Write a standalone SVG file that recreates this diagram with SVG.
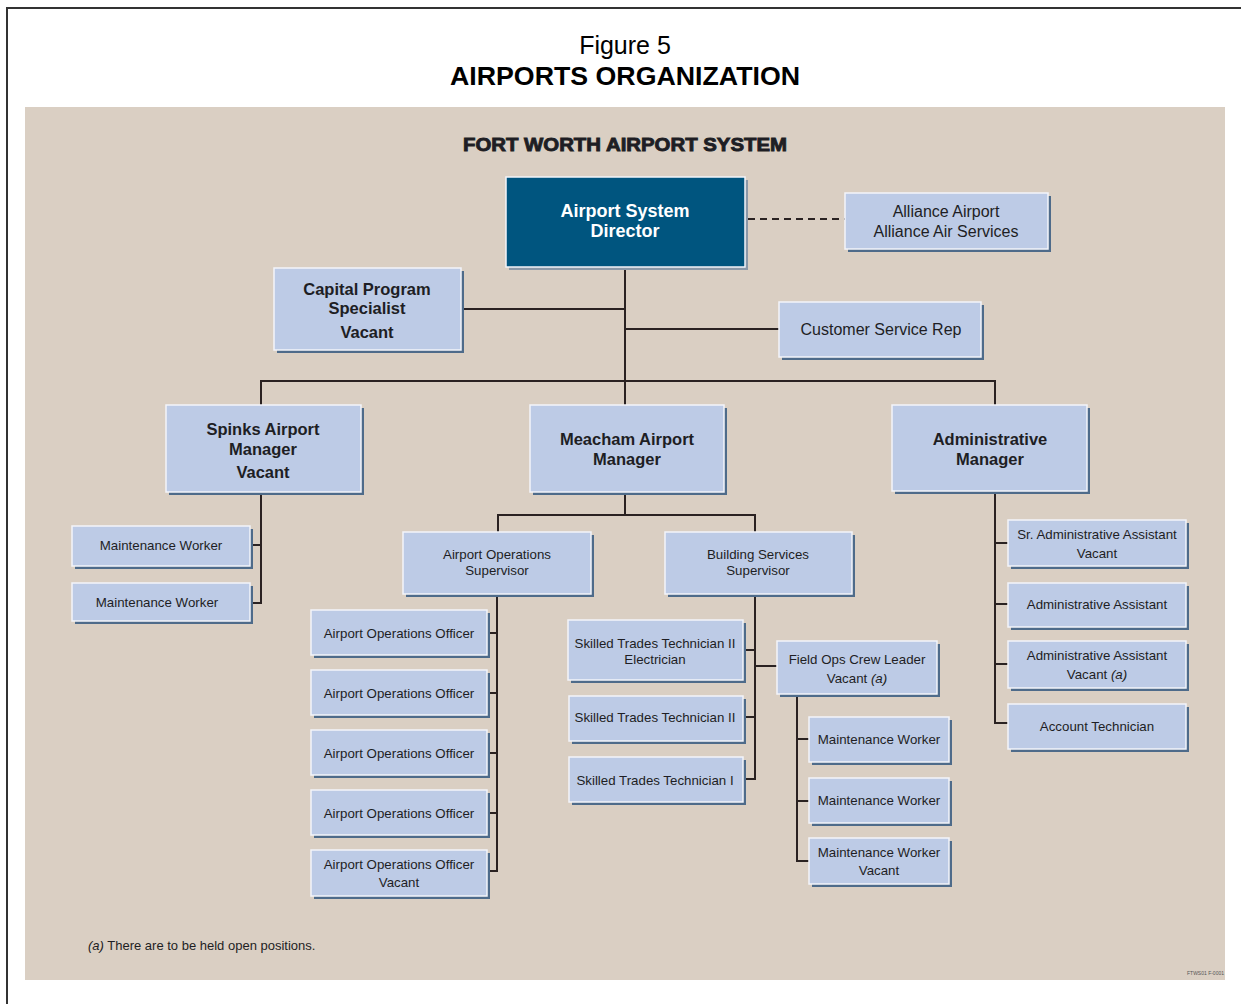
<svg xmlns="http://www.w3.org/2000/svg" width="1241" height="1004" viewBox="0 0 1241 1004">
<style>
.sh{fill:#4e6b8a}
.bx{fill:#bdcbe6;stroke:#f3f5fa;stroke-width:1.5}
.t{font-family:"Liberation Sans",Arial,sans-serif;fill:#1e1e24;text-anchor:middle}
.w{fill:#ffffff}
.k{fill:#000000}
.s{font-size:13.3px}
.m{font-size:16px}
.b{font-size:16.5px;font-weight:bold}
.ln{stroke:#2a2222;stroke-width:2;fill:none}
</style>
<rect x="0" y="0" width="1241" height="1004" fill="#ffffff"/>
<path d="M7 1004 V8 H1241" fill="none" stroke="#333" stroke-width="2"/>
<text x="625" y="54" class="t k" style="font-size:25px">Figure 5</text>
<text x="625" y="85" class="t k" style="font-size:26.5px;font-weight:bold" textLength="350" lengthAdjust="spacingAndGlyphs">AIRPORTS ORGANIZATION</text>
<rect x="25" y="107" width="1200" height="873" fill="#dacfc3"/>
<text x="625" y="151" class="t" style="font-size:19px;font-weight:bold;stroke:#1e1e24;stroke-width:0.9" textLength="324" lengthAdjust="spacingAndGlyphs">FORT WORTH AIRPORT SYSTEM</text>

<g id="connectors">
<path class="ln" d="M748 219 H845" stroke-dasharray="7,5"/>
<path class="ln" d="M625 267 V405"/>
<path class="ln" d="M461 309 H625"/>
<path class="ln" d="M625 329 H779"/>
<path class="ln" d="M261 405 V381 H995 V405"/>
<path class="ln" d="M261 492 V603 H250 M250 545 H261"/>
<path class="ln" d="M625 492 V515 M498 532 V515 H755 V532"/>
<path class="ln" d="M497 594 V871 H487 M487 633 H497 M487 693 H497 M487 753 H497 M487 813 H497"/>
<path class="ln" d="M755 594 V779 H743 M743 650 H755 M743 717 H755 M755 666 H777"/>
<path class="ln" d="M797 694 V861 H809 M797 739 H809 M797 801 H809"/>
<path class="ln" d="M995 491 V723 H1008 M995 543 H1008 M995 604 H1008 M995 664 H1008"/>
</g>

<g id="director">
<rect x="509" y="180" width="239" height="90" fill="#8a98a8"/>
<rect x="506" y="177" width="239" height="90" fill="#00557f" stroke="#f3f5fa" stroke-width="1.5"/>
<text x="625" y="217" class="t w" style="font-size:18px;font-weight:bold">Airport System</text>
<text x="625" y="237" class="t w" style="font-size:18px;font-weight:bold">Director</text>
</g>
<g id="alliance">
<rect class="sh" x="848" y="196" width="203" height="56"/>
<rect class="bx" x="845" y="193" width="203" height="56"/>
<text x="946" y="217" class="t m">Alliance Airport</text>
<text x="946" y="237" class="t m">Alliance Air Services</text>
</g>
<g id="capital">
<rect class="sh" x="277" y="271" width="187" height="82"/>
<rect class="bx" x="274" y="268" width="187" height="82"/>
<text x="367" y="295" class="t b">Capital Program</text>
<text x="367" y="314" class="t b">Specialist</text>
<text x="367" y="338" class="t b">Vacant</text>
</g>
<g id="customer">
<rect class="sh" x="782" y="305" width="202" height="55"/>
<rect class="bx" x="779" y="302" width="202" height="55"/>
<text x="881" y="335" class="t m">Customer Service Rep</text>
</g>
<g id="spinks">
<rect class="sh" x="169" y="408" width="195" height="87"/>
<rect class="bx" x="166" y="405" width="195" height="87"/>
<text x="263" y="435" class="t b">Spinks Airport</text>
<text x="263" y="455" class="t b">Manager</text>
<text x="263" y="478" class="t b">Vacant</text>
</g>
<g id="meacham">
<rect class="sh" x="533" y="408" width="194" height="87"/>
<rect class="bx" x="530" y="405" width="194" height="87"/>
<text x="627" y="445" class="t b">Meacham Airport</text>
<text x="627" y="465" class="t b">Manager</text>
</g>
<g id="adminmgr">
<rect class="sh" x="895" y="408" width="195" height="86"/>
<rect class="bx" x="892" y="405" width="195" height="86"/>
<text x="990" y="445" class="t b">Administrative</text>
<text x="990" y="465" class="t b">Manager</text>
</g>

<g id="spinks-mw1">
<rect class="sh" x="75" y="529" width="178" height="40"/>
<rect class="bx" x="72" y="526" width="178" height="40"/>
<text x="161" y="550" class="t s">Maintenance Worker</text>
</g>
<g id="spinks-mw2">
<rect class="sh" x="75" y="586" width="178" height="38"/>
<rect class="bx" x="72" y="583" width="178" height="38"/>
<text x="157" y="607" class="t s">Maintenance Worker</text>
</g>

<g id="aos">
<rect class="sh" x="406" y="535" width="188" height="62"/>
<rect class="bx" x="403" y="532" width="188" height="62"/>
<text x="497" y="559" class="t s">Airport Operations</text>
<text x="497" y="575" class="t s">Supervisor</text>
</g>
<g id="bss">
<rect class="sh" x="668" y="535" width="187" height="62"/>
<rect class="bx" x="665" y="532" width="187" height="62"/>
<text x="758" y="559" class="t s">Building Services</text>
<text x="758" y="575" class="t s">Supervisor</text>
</g>

<g id="aoo1">
<rect class="sh" x="314" y="613" width="176" height="45"/>
<rect class="bx" x="311" y="610" width="176" height="45"/>
<text x="399" y="638" class="t s">Airport Operations Officer</text>
</g>
<g id="aoo2">
<rect class="sh" x="314" y="673" width="176" height="45"/>
<rect class="bx" x="311" y="670" width="176" height="45"/>
<text x="399" y="698" class="t s">Airport Operations Officer</text>
</g>
<g id="aoo3">
<rect class="sh" x="314" y="733" width="176" height="45"/>
<rect class="bx" x="311" y="730" width="176" height="45"/>
<text x="399" y="758" class="t s">Airport Operations Officer</text>
</g>
<g id="aoo4">
<rect class="sh" x="314" y="793" width="176" height="45"/>
<rect class="bx" x="311" y="790" width="176" height="45"/>
<text x="399" y="818" class="t s">Airport Operations Officer</text>
</g>
<g id="aoo5">
<rect class="sh" x="314" y="853" width="176" height="46"/>
<rect class="bx" x="311" y="850" width="176" height="46"/>
<text x="399" y="869" class="t s">Airport Operations Officer</text>
<text x="399" y="887" class="t s">Vacant</text>
</g>

<g id="stt-elec">
<rect class="sh" x="571" y="623" width="175" height="60"/>
<rect class="bx" x="568" y="620" width="175" height="60"/>
<text x="655" y="648" class="t s">Skilled Trades Technician II</text>
<text x="655" y="664" class="t s">Electrician</text>
</g>
<g id="stt2">
<rect class="sh" x="572" y="699" width="174" height="45"/>
<rect class="bx" x="569" y="696" width="174" height="45"/>
<text x="655" y="722" class="t s">Skilled Trades Technician II</text>
</g>
<g id="stt1">
<rect class="sh" x="572" y="760" width="174" height="45"/>
<rect class="bx" x="569" y="757" width="174" height="45"/>
<text x="655" y="785" class="t s">Skilled Trades Technician I</text>
</g>

<g id="fieldops">
<rect class="sh" x="780" y="644" width="160" height="53"/>
<rect class="bx" x="777" y="641" width="160" height="53"/>
<text x="857" y="664" class="t s">Field Ops Crew Leader</text>
<text x="857" y="683" class="t s">Vacant <tspan font-style="italic">(a)</tspan></text>
</g>
<g id="fo-mw1">
<rect class="sh" x="812" y="720" width="140" height="45"/>
<rect class="bx" x="809" y="717" width="140" height="45"/>
<text x="879" y="744" class="t s">Maintenance Worker</text>
</g>
<g id="fo-mw2">
<rect class="sh" x="812" y="781" width="140" height="45"/>
<rect class="bx" x="809" y="778" width="140" height="45"/>
<text x="879" y="805" class="t s">Maintenance Worker</text>
</g>
<g id="fo-mw3">
<rect class="sh" x="812" y="841" width="140" height="46"/>
<rect class="bx" x="809" y="838" width="140" height="46"/>
<text x="879" y="857" class="t s">Maintenance Worker</text>
<text x="879" y="875" class="t s">Vacant</text>
</g>

<g id="sr-admin">
<rect class="sh" x="1011" y="523" width="178" height="46"/>
<rect class="bx" x="1008" y="520" width="178" height="46"/>
<text x="1097" y="539" class="t s">Sr. Administrative Assistant</text>
<text x="1097" y="558" class="t s">Vacant</text>
</g>
<g id="admin-asst">
<rect class="sh" x="1011" y="586" width="178" height="44"/>
<rect class="bx" x="1008" y="583" width="178" height="44"/>
<text x="1097" y="609" class="t s">Administrative Assistant</text>
</g>
<g id="admin-asst-vac">
<rect class="sh" x="1011" y="644" width="178" height="47"/>
<rect class="bx" x="1008" y="641" width="178" height="47"/>
<text x="1097" y="660" class="t s">Administrative Assistant</text>
<text x="1097" y="679" class="t s">Vacant <tspan font-style="italic">(a)</tspan></text>
</g>
<g id="account-tech">
<rect class="sh" x="1011" y="707" width="178" height="45"/>
<rect class="bx" x="1008" y="704" width="178" height="45"/>
<text x="1097" y="731" class="t s">Account Technician</text>
</g>

<text x="88" y="950" style="font-family:'Liberation Sans',Arial,sans-serif;font-size:13px;fill:#1e1e24"><tspan font-style="italic">(a)</tspan> There are to be held open positions.</text>
<text x="1224" y="975" style="font-family:'Liberation Sans',Arial,sans-serif;font-size:5px;text-anchor:end;fill:#555">FTWS01 F-0001</text>
</svg>
